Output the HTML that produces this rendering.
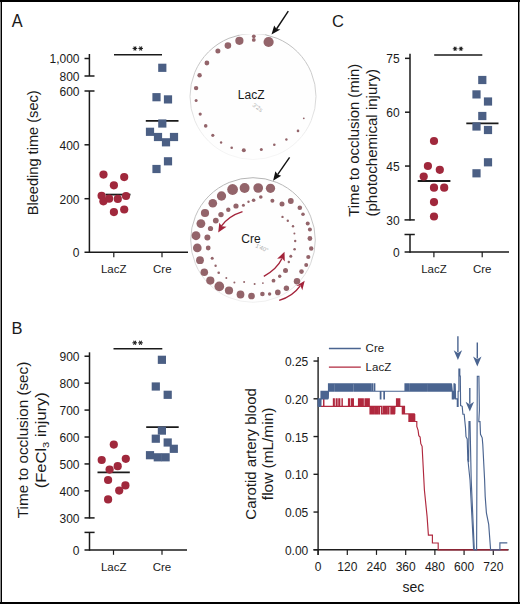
<!DOCTYPE html>
<html><head><meta charset="utf-8"><style>
html,body{margin:0;padding:0;background:#fff;}
svg{display:block;}
text{font-family:"Liberation Sans", sans-serif;}
</style></head><body>
<svg width="520" height="604" viewBox="0 0 520 604">
<rect x="0" y="0" width="520" height="604" fill="#ffffff"/>
<defs><linearGradient id="gL" x1="0" y1="0" x2="0" y2="1"><stop offset="0" stop-color="#bababa"/><stop offset="0.45" stop-color="#d2d2d2"/><stop offset="0.8" stop-color="#eeeeee"/><stop offset="1" stop-color="#f6f6f6"/></linearGradient><linearGradient id="gC" x1="0" y1="0" x2="0" y2="1"><stop offset="0" stop-color="#b5b5b5"/><stop offset="0.55" stop-color="#cdcdcd"/><stop offset="0.85" stop-color="#e6e6e6"/><stop offset="1" stop-color="#f0f0f0"/></linearGradient></defs>
<circle cx="253" cy="96.5" r="63" fill="#fefefe" stroke="url(#gL)" stroke-width="1"/>
<rect x="239" y="28" width="26" height="6.6" fill="#ffffff"/>
<circle cx="268.6" cy="42.0" r="5.1" fill="#93646a"/>
<circle cx="253.8" cy="36.3" r="1.9" fill="#93646a"/>
<circle cx="253.8" cy="39.9" r="1.9" fill="#93646a"/>
<circle cx="239.4" cy="40.8" r="4.1" fill="#93646a"/>
<circle cx="227.9" cy="45.6" r="3.3" fill="#93646a"/>
<circle cx="217.9" cy="51.0" r="2.5" fill="#93646a"/>
<circle cx="206.9" cy="63.0" r="2.4" fill="#93646a"/>
<circle cx="199.6" cy="75.2" r="2.2" fill="#93646a"/>
<circle cx="196.1" cy="88.1" r="2.2" fill="#93646a"/>
<circle cx="196.1" cy="100.6" r="1.5" fill="#93646a"/>
<circle cx="200.2" cy="114.1" r="1.6" fill="#93646a"/>
<circle cx="205.7" cy="125.9" r="1.8" fill="#93646a"/>
<circle cx="212.8" cy="135.3" r="1.6" fill="#93646a"/>
<circle cx="221.1" cy="142.5" r="1.2" fill="#93646a"/>
<circle cx="231.7" cy="147.7" r="1.3" fill="#93646a"/>
<circle cx="243.8" cy="150.2" r="2.0" fill="#93646a"/>
<circle cx="261.3" cy="149.4" r="1.5" fill="#93646a"/>
<circle cx="274.3" cy="144.8" r="1.3" fill="#93646a"/>
<circle cx="286.4" cy="139.5" r="1.2" fill="#93646a"/>
<circle cx="298.0" cy="130.9" r="1.3" fill="#93646a"/>
<circle cx="303.8" cy="118.3" r="0.9" fill="#93646a"/>
<text x="251.2" y="98.6" font-size="12" text-anchor="middle" fill="#1a1a1a" >LacZ</text>
<text x="0" y="0" font-size="6" fill="#b0b0b0" transform="translate(252,106) rotate(35)">3'2s</text>
<line x1="288.3" y1="11.2" x2="276.5" y2="29.0" stroke="#111" stroke-width="1.4"/>
<path d="M271.5,34.6 L274.2,25.4 L276.5,29.0 L280.4,29.6 Z" fill="#111"/>
<circle cx="253" cy="240" r="62.3" fill="#fefefe" stroke="url(#gC)" stroke-width="1"/>
<circle cx="270.5" cy="188.3" r="4.64" fill="#93646a"/>
<circle cx="258.2" cy="188.0" r="4.86" fill="#93646a"/>
<circle cx="244.6" cy="188.0" r="4.97" fill="#93646a"/>
<circle cx="232.6" cy="189.5" r="5.4" fill="#93646a"/>
<circle cx="221.5" cy="196.0" r="4.64" fill="#93646a"/>
<circle cx="212.8" cy="203.2" r="4.32" fill="#93646a"/>
<circle cx="205.0" cy="213.0" r="4.1" fill="#93646a"/>
<circle cx="200.9" cy="223.6" r="4.43" fill="#93646a"/>
<circle cx="196.0" cy="235.7" r="4.43" fill="#93646a"/>
<circle cx="197.3" cy="247.9" r="4.32" fill="#93646a"/>
<circle cx="200.0" cy="260.2" r="3.89" fill="#93646a"/>
<circle cx="204.3" cy="272.2" r="3.78" fill="#93646a"/>
<circle cx="210.3" cy="280.6" r="4.1" fill="#93646a"/>
<circle cx="219.3" cy="286.4" r="4.86" fill="#93646a"/>
<circle cx="229.0" cy="290.5" r="4.1" fill="#93646a"/>
<circle cx="240.5" cy="294.5" r="3.89" fill="#93646a"/>
<circle cx="251.5" cy="296.0" r="3.35" fill="#93646a"/>
<circle cx="262.4" cy="294.0" r="2.3" fill="#93646a"/>
<circle cx="269.6" cy="294.0" r="1.7" fill="#93646a"/>
<circle cx="277.8" cy="292.4" r="2.8" fill="#93646a"/>
<circle cx="286.4" cy="288.2" r="2.7" fill="#93646a"/>
<circle cx="297.0" cy="281.2" r="3.24" fill="#93646a"/>
<circle cx="301.5" cy="271.6" r="2.3" fill="#93646a"/>
<circle cx="306.2" cy="265.1" r="2.0" fill="#93646a"/>
<circle cx="308.3" cy="257.0" r="2.1" fill="#93646a"/>
<circle cx="311.2" cy="248.5" r="2.2" fill="#93646a"/>
<circle cx="309.9" cy="238.5" r="2.4" fill="#93646a"/>
<circle cx="309.9" cy="229.6" r="2.0" fill="#93646a"/>
<circle cx="307.7" cy="223.4" r="2.0" fill="#93646a"/>
<circle cx="303.0" cy="214.3" r="1.8" fill="#93646a"/>
<circle cx="299.8" cy="207.8" r="2.3" fill="#93646a"/>
<circle cx="290.8" cy="201.0" r="2.9" fill="#93646a"/>
<circle cx="282.0" cy="203.9" r="2.5" fill="#93646a"/>
<circle cx="272.4" cy="200.7" r="2.0" fill="#93646a"/>
<circle cx="260.8" cy="197.0" r="1.8" fill="#93646a"/>
<circle cx="253.6" cy="200.3" r="1.8" fill="#93646a"/>
<circle cx="248.5" cy="201.7" r="1.2" fill="#93646a"/>
<circle cx="243.4" cy="205.3" r="1.5" fill="#93646a"/>
<circle cx="236.0" cy="206.0" r="2.6" fill="#93646a"/>
<circle cx="228.3" cy="209.8" r="2.2" fill="#93646a"/>
<circle cx="221.0" cy="214.6" r="2.7" fill="#93646a"/>
<circle cx="215.8" cy="220.6" r="2.9" fill="#93646a"/>
<circle cx="210.5" cy="228.5" r="2.6" fill="#93646a"/>
<circle cx="207.4" cy="237.5" r="3.0" fill="#93646a"/>
<circle cx="208.2" cy="248.0" r="2.4" fill="#93646a"/>
<circle cx="212.2" cy="258.2" r="1.5" fill="#93646a"/>
<circle cx="215.6" cy="265.8" r="1.2" fill="#93646a"/>
<circle cx="218.7" cy="272.7" r="1.3" fill="#93646a"/>
<circle cx="226.3" cy="278.1" r="1.0" fill="#93646a"/>
<circle cx="234.4" cy="282.4" r="1.0" fill="#93646a"/>
<circle cx="244.1" cy="282.1" r="1.0" fill="#93646a"/>
<circle cx="254.6" cy="284.1" r="1.0" fill="#93646a"/>
<circle cx="262.9" cy="283.1" r="0.9" fill="#93646a"/>
<circle cx="273.5" cy="280.7" r="1.9" fill="#93646a"/>
<circle cx="279.7" cy="276.2" r="1.7" fill="#93646a"/>
<circle cx="285.5" cy="270.6" r="2.5" fill="#93646a"/>
<circle cx="288.8" cy="262.0" r="1.2" fill="#93646a"/>
<circle cx="290.8" cy="256.2" r="1.5" fill="#93646a"/>
<circle cx="294.6" cy="249.2" r="1.3" fill="#93646a"/>
<circle cx="295.2" cy="241.0" r="1.2" fill="#93646a"/>
<circle cx="294.4" cy="233.5" r="1.0" fill="#93646a"/>
<circle cx="293.0" cy="226.3" r="1.2" fill="#93646a"/>
<circle cx="287.8" cy="220.8" r="1.2" fill="#93646a"/>
<circle cx="282.5" cy="216.9" r="1.2" fill="#93646a"/>
<text x="251.0" y="242.7" font-size="12" text-anchor="middle" fill="#1a1a1a" >Cre</text>
<text x="0" y="0" font-size="6" fill="#b0b0b0" transform="translate(255,247) rotate(25)">1'40"</text>
<line x1="289.6" y1="157.3" x2="277.6" y2="174.6" stroke="#111" stroke-width="1.4"/>
<path d="M273.1,180.8 L275.4,171.2 L277.6,174.6 L281.2,175.8 Z" fill="#111"/>
<path d="M242.5,211.6 Q228.5,216 221.3,226.2" fill="none" stroke="#a3233a" stroke-width="1.4"/>
<path d="M218.2,232.4 L219.3,222.7 L221.9,226.2 L226.5,226.8 Z" fill="#a3233a"/>
<path d="M263.8,276.4 Q277,269 282,258.5" fill="none" stroke="#a3233a" stroke-width="1.4"/>
<path d="M284.5,251.8 L277.1,258.8 L282.0,258.3 L284.8,261.5 Z" fill="#a3233a"/>
<path d="M279.2,300.4 Q293,296 300.2,285.8" fill="none" stroke="#a3233a" stroke-width="1.4"/>
<path d="M304.7,280.7 L296.1,286.0 L300.4,285.6 L302.3,290.3 Z" fill="#a3233a"/>
<text x="11.8" y="26.9" font-size="18" text-anchor="start" fill="#1a1a1a" textLength="10.9" lengthAdjust="spacingAndGlyphs">A</text>
<text x="332.0" y="27.0" font-size="16.5" text-anchor="start" fill="#1a1a1a" >C</text>
<text x="11.5" y="334.0" font-size="16.5" text-anchor="start" fill="#1a1a1a" >B</text>
<line x1="89.40" y1="54.00" x2="89.40" y2="76.00" stroke="#1a1a1a" stroke-width="1.5" />
<line x1="84.50" y1="58.50" x2="89.40" y2="58.50" stroke="#1a1a1a" stroke-width="1.5" />
<line x1="84.50" y1="76.00" x2="94.50" y2="76.00" stroke="#1a1a1a" stroke-width="1.5" />
<line x1="84.50" y1="91.00" x2="94.50" y2="91.00" stroke="#1a1a1a" stroke-width="1.5" />
<line x1="89.40" y1="91.00" x2="89.40" y2="252.90" stroke="#1a1a1a" stroke-width="1.5" />
<line x1="84.50" y1="144.80" x2="89.40" y2="144.80" stroke="#1a1a1a" stroke-width="1.5" />
<line x1="84.50" y1="198.70" x2="89.40" y2="198.70" stroke="#1a1a1a" stroke-width="1.5" />
<line x1="84.50" y1="252.20" x2="188.00" y2="252.20" stroke="#1a1a1a" stroke-width="1.5" />
<line x1="113.80" y1="252.20" x2="113.80" y2="257.30" stroke="#1a1a1a" stroke-width="1.2" />
<line x1="162.00" y1="252.20" x2="162.00" y2="257.30" stroke="#1a1a1a" stroke-width="1.2" />
<text x="79.5" y="63.3" font-size="12" text-anchor="end" fill="#1a1a1a" >1,000</text>
<text x="79.5" y="80.8" font-size="12" text-anchor="end" fill="#1a1a1a" >800</text>
<text x="79.5" y="95.8" font-size="12" text-anchor="end" fill="#1a1a1a" >600</text>
<text x="79.5" y="149.6" font-size="12" text-anchor="end" fill="#1a1a1a" >400</text>
<text x="79.5" y="203.5" font-size="12" text-anchor="end" fill="#1a1a1a" >200</text>
<text x="79.5" y="257.0" font-size="12" text-anchor="end" fill="#1a1a1a" >0</text>
<text x="113.7" y="273.0" font-size="11.5" text-anchor="middle" fill="#1a1a1a" >LacZ</text>
<text x="162.3" y="273.0" font-size="11.5" text-anchor="middle" fill="#1a1a1a" >Cre</text>
<text x="0" y="0" font-size="14" text-anchor="middle" fill="#1a1a1a" textLength="125" lengthAdjust="spacingAndGlyphs" transform="translate(37.6,152.8) rotate(-90)" >Bleeding time (sec)</text>
<line x1="114.00" y1="54.70" x2="162.00" y2="54.70" stroke="#1a1a1a" stroke-width="1.6" />
<line x1="132.60" y1="48.40" x2="137.20" y2="48.40" stroke="#1a1a1a" stroke-width="1.05" />
<line x1="133.75" y1="46.41" x2="136.05" y2="50.39" stroke="#1a1a1a" stroke-width="1.05" />
<line x1="136.05" y1="46.41" x2="133.75" y2="50.39" stroke="#1a1a1a" stroke-width="1.05" />
<line x1="138.40" y1="48.40" x2="143.00" y2="48.40" stroke="#1a1a1a" stroke-width="1.05" />
<line x1="139.55" y1="46.41" x2="141.85" y2="50.39" stroke="#1a1a1a" stroke-width="1.05" />
<line x1="141.85" y1="46.41" x2="139.55" y2="50.39" stroke="#1a1a1a" stroke-width="1.05" />
<line x1="105.50" y1="194.60" x2="130.50" y2="194.60" stroke="#1a1a1a" stroke-width="1.8" />
<circle cx="103.5" cy="174.6" r="4.10" fill="#a0283c"/>
<circle cx="124.2" cy="177.1" r="4.10" fill="#a0283c"/>
<circle cx="113.9" cy="185.3" r="4.10" fill="#a0283c"/>
<circle cx="101.6" cy="195.8" r="4.10" fill="#a0283c"/>
<circle cx="103.4" cy="201.3" r="4.10" fill="#a0283c"/>
<circle cx="109.1" cy="198.7" r="4.10" fill="#a0283c"/>
<circle cx="117.8" cy="198.9" r="4.10" fill="#a0283c"/>
<circle cx="126.0" cy="196.0" r="4.10" fill="#a0283c"/>
<circle cx="113.9" cy="212.1" r="4.10" fill="#a0283c"/>
<circle cx="124.2" cy="209.5" r="4.10" fill="#a0283c"/>
<line x1="145.80" y1="120.80" x2="178.50" y2="120.80" stroke="#1a1a1a" stroke-width="1.8" />
<rect x="158.2" y="63.7" width="8.2" height="8.2" fill="#4b5f84"/>
<rect x="152.4" y="93.1" width="8.2" height="8.2" fill="#4b5f84"/>
<rect x="163.9" y="95.3" width="8.2" height="8.2" fill="#4b5f84"/>
<rect x="158.2" y="119.4" width="8.2" height="8.2" fill="#4b5f84"/>
<rect x="145.9" y="127.7" width="8.2" height="8.2" fill="#4b5f84"/>
<rect x="153.9" y="132.9" width="8.2" height="8.2" fill="#4b5f84"/>
<rect x="169.9" y="132.9" width="8.2" height="8.2" fill="#4b5f84"/>
<rect x="161.9" y="138.2" width="8.2" height="8.2" fill="#4b5f84"/>
<rect x="163.9" y="157.2" width="8.2" height="8.2" fill="#4b5f84"/>
<rect x="152.4" y="164.9" width="8.2" height="8.2" fill="#4b5f84"/>
<line x1="410.00" y1="53.80" x2="410.00" y2="220.60" stroke="#1a1a1a" stroke-width="1.5" />
<line x1="405.00" y1="58.35" x2="410.00" y2="58.35" stroke="#1a1a1a" stroke-width="1.5" />
<line x1="405.00" y1="112.20" x2="410.00" y2="112.20" stroke="#1a1a1a" stroke-width="1.5" />
<line x1="405.00" y1="166.05" x2="410.00" y2="166.05" stroke="#1a1a1a" stroke-width="1.5" />
<line x1="404.50" y1="219.90" x2="414.80" y2="219.90" stroke="#1a1a1a" stroke-width="1.5" />
<line x1="404.50" y1="234.50" x2="414.80" y2="234.50" stroke="#1a1a1a" stroke-width="1.5" />
<line x1="410.00" y1="234.50" x2="410.00" y2="252.80" stroke="#1a1a1a" stroke-width="1.5" />
<line x1="404.60" y1="252.10" x2="509.00" y2="252.10" stroke="#1a1a1a" stroke-width="1.5" />
<line x1="433.90" y1="252.10" x2="433.90" y2="257.30" stroke="#1a1a1a" stroke-width="1.2" />
<line x1="482.20" y1="252.10" x2="482.20" y2="257.30" stroke="#1a1a1a" stroke-width="1.2" />
<text x="399.6" y="63.2" font-size="12" text-anchor="end" fill="#1a1a1a" >75</text>
<text x="399.6" y="117.0" font-size="12" text-anchor="end" fill="#1a1a1a" >60</text>
<text x="399.6" y="170.9" font-size="12" text-anchor="end" fill="#1a1a1a" >45</text>
<text x="399.6" y="224.7" font-size="12" text-anchor="end" fill="#1a1a1a" >30</text>
<text x="399.6" y="256.9" font-size="12" text-anchor="end" fill="#1a1a1a" >0</text>
<text x="434.0" y="273.1" font-size="11.5" text-anchor="middle" fill="#1a1a1a" >LacZ</text>
<text x="482.2" y="273.1" font-size="11.5" text-anchor="middle" fill="#1a1a1a" >Cre</text>
<text x="0" y="0" font-size="14" text-anchor="middle" fill="#1a1a1a" textLength="153" lengthAdjust="spacingAndGlyphs" transform="translate(358.8,140.3) rotate(-90)" >Time to occlusion (min)</text>
<text x="0" y="0" font-size="14" text-anchor="middle" fill="#1a1a1a" textLength="147.5" lengthAdjust="spacingAndGlyphs" transform="translate(376.6,142.8) rotate(-90)" >(photochemical injury)</text>
<line x1="434.20" y1="55.00" x2="482.30" y2="55.00" stroke="#1a1a1a" stroke-width="1.6" />
<line x1="452.80" y1="48.80" x2="457.40" y2="48.80" stroke="#1a1a1a" stroke-width="1.05" />
<line x1="453.95" y1="46.81" x2="456.25" y2="50.79" stroke="#1a1a1a" stroke-width="1.05" />
<line x1="456.25" y1="46.81" x2="453.95" y2="50.79" stroke="#1a1a1a" stroke-width="1.05" />
<line x1="458.60" y1="48.80" x2="463.20" y2="48.80" stroke="#1a1a1a" stroke-width="1.05" />
<line x1="459.75" y1="46.81" x2="462.05" y2="50.79" stroke="#1a1a1a" stroke-width="1.05" />
<line x1="462.05" y1="46.81" x2="459.75" y2="50.79" stroke="#1a1a1a" stroke-width="1.05" />
<line x1="417.70" y1="181.00" x2="450.40" y2="181.00" stroke="#1a1a1a" stroke-width="1.8" />
<circle cx="434.0" cy="141.0" r="4.10" fill="#a0283c"/>
<circle cx="427.9" cy="166.0" r="4.10" fill="#a0283c"/>
<circle cx="439.8" cy="169.8" r="4.10" fill="#a0283c"/>
<circle cx="423.7" cy="176.5" r="4.10" fill="#a0283c"/>
<circle cx="434.0" cy="187.7" r="4.10" fill="#a0283c"/>
<circle cx="444.2" cy="187.7" r="4.10" fill="#a0283c"/>
<circle cx="434.0" cy="202.1" r="4.10" fill="#a0283c"/>
<circle cx="434.0" cy="216.5" r="4.10" fill="#a0283c"/>
<line x1="466.30" y1="123.30" x2="498.50" y2="123.30" stroke="#1a1a1a" stroke-width="1.8" />
<rect x="478.2" y="75.9" width="8.2" height="8.2" fill="#4b5f84"/>
<rect x="472.4" y="90.3" width="8.2" height="8.2" fill="#4b5f84"/>
<rect x="483.9" y="97.4" width="8.2" height="8.2" fill="#4b5f84"/>
<rect x="478.2" y="111.9" width="8.2" height="8.2" fill="#4b5f84"/>
<rect x="472.4" y="122.4" width="8.2" height="8.2" fill="#4b5f84"/>
<rect x="483.9" y="125.9" width="8.2" height="8.2" fill="#4b5f84"/>
<rect x="483.9" y="158.2" width="8.2" height="8.2" fill="#4b5f84"/>
<rect x="472.4" y="169.2" width="8.2" height="8.2" fill="#4b5f84"/>
<line x1="89.50" y1="352.30" x2="89.50" y2="518.50" stroke="#1a1a1a" stroke-width="1.5" />
<line x1="84.50" y1="356.22" x2="89.50" y2="356.22" stroke="#1a1a1a" stroke-width="1.5" />
<line x1="84.50" y1="383.15" x2="89.50" y2="383.15" stroke="#1a1a1a" stroke-width="1.5" />
<line x1="84.50" y1="410.08" x2="89.50" y2="410.08" stroke="#1a1a1a" stroke-width="1.5" />
<line x1="84.50" y1="437.01" x2="89.50" y2="437.01" stroke="#1a1a1a" stroke-width="1.5" />
<line x1="84.50" y1="463.94" x2="89.50" y2="463.94" stroke="#1a1a1a" stroke-width="1.5" />
<line x1="84.50" y1="490.87" x2="89.50" y2="490.87" stroke="#1a1a1a" stroke-width="1.5" />
<line x1="84.50" y1="517.90" x2="94.60" y2="517.90" stroke="#1a1a1a" stroke-width="1.5" />
<line x1="84.50" y1="532.40" x2="94.60" y2="532.40" stroke="#1a1a1a" stroke-width="1.5" />
<line x1="89.50" y1="532.40" x2="89.50" y2="550.70" stroke="#1a1a1a" stroke-width="1.5" />
<line x1="84.50" y1="550.00" x2="187.00" y2="550.00" stroke="#1a1a1a" stroke-width="1.5" />
<line x1="113.50" y1="550.00" x2="113.50" y2="554.80" stroke="#1a1a1a" stroke-width="1.2" />
<line x1="162.00" y1="550.00" x2="162.00" y2="554.80" stroke="#1a1a1a" stroke-width="1.2" />
<text x="79.5" y="361.0" font-size="12" text-anchor="end" fill="#1a1a1a" >900</text>
<text x="79.5" y="387.9" font-size="12" text-anchor="end" fill="#1a1a1a" >800</text>
<text x="79.5" y="414.9" font-size="12" text-anchor="end" fill="#1a1a1a" >700</text>
<text x="79.5" y="441.8" font-size="12" text-anchor="end" fill="#1a1a1a" >600</text>
<text x="79.5" y="468.7" font-size="12" text-anchor="end" fill="#1a1a1a" >500</text>
<text x="79.5" y="495.7" font-size="12" text-anchor="end" fill="#1a1a1a" >400</text>
<text x="79.5" y="522.6" font-size="12" text-anchor="end" fill="#1a1a1a" >300</text>
<text x="79.5" y="554.8" font-size="12" text-anchor="end" fill="#1a1a1a" >0</text>
<text x="113.7" y="570.6" font-size="11.5" text-anchor="middle" fill="#1a1a1a" >LacZ</text>
<text x="162.0" y="570.6" font-size="11.5" text-anchor="middle" fill="#1a1a1a" >Cre</text>
<text x="0" y="0" font-size="14" text-anchor="middle" fill="#1a1a1a" textLength="156.5" lengthAdjust="spacingAndGlyphs" transform="translate(27.8,439.9) rotate(-90)" >Time to occlusion (sec)</text>
<text x="0" y="0" font-size="14" text-anchor="middle" fill="#1a1a1a" transform="translate(46.2,440.2) rotate(-90)" textLength="96" lengthAdjust="spacingAndGlyphs">(FeCl<tspan font-size="9.5" dy="3">3</tspan><tspan dy="-3"> injury)</tspan></text>
<line x1="113.50" y1="348.80" x2="162.30" y2="348.80" stroke="#1a1a1a" stroke-width="1.6" />
<line x1="132.40" y1="342.80" x2="137.00" y2="342.80" stroke="#1a1a1a" stroke-width="1.05" />
<line x1="133.55" y1="340.81" x2="135.85" y2="344.79" stroke="#1a1a1a" stroke-width="1.05" />
<line x1="135.85" y1="340.81" x2="133.55" y2="344.79" stroke="#1a1a1a" stroke-width="1.05" />
<line x1="138.20" y1="342.80" x2="142.80" y2="342.80" stroke="#1a1a1a" stroke-width="1.05" />
<line x1="139.35" y1="340.81" x2="141.65" y2="344.79" stroke="#1a1a1a" stroke-width="1.05" />
<line x1="141.65" y1="340.81" x2="139.35" y2="344.79" stroke="#1a1a1a" stroke-width="1.05" />
<line x1="97.50" y1="472.30" x2="129.80" y2="472.30" stroke="#1a1a1a" stroke-width="1.8" />
<circle cx="113.8" cy="444.6" r="4.10" fill="#a0283c"/>
<circle cx="101.7" cy="460.0" r="4.10" fill="#a0283c"/>
<circle cx="125.8" cy="458.8" r="4.10" fill="#a0283c"/>
<circle cx="117.7" cy="466.2" r="4.10" fill="#a0283c"/>
<circle cx="109.6" cy="469.6" r="4.10" fill="#a0283c"/>
<circle cx="108.1" cy="480.0" r="4.10" fill="#a0283c"/>
<circle cx="125.4" cy="485.4" r="4.10" fill="#a0283c"/>
<circle cx="119.2" cy="490.6" r="4.10" fill="#a0283c"/>
<circle cx="108.1" cy="499.4" r="4.10" fill="#a0283c"/>
<line x1="146.20" y1="427.10" x2="178.70" y2="427.10" stroke="#1a1a1a" stroke-width="1.8" />
<rect x="157.8" y="355.7" width="8.2" height="8.2" fill="#4b5f84"/>
<rect x="151.7" y="382.4" width="8.2" height="8.2" fill="#4b5f84"/>
<rect x="163.6" y="390.7" width="8.2" height="8.2" fill="#4b5f84"/>
<rect x="157.8" y="426.5" width="8.2" height="8.2" fill="#4b5f84"/>
<rect x="151.7" y="434.6" width="8.2" height="8.2" fill="#4b5f84"/>
<rect x="163.6" y="438.4" width="8.2" height="8.2" fill="#4b5f84"/>
<rect x="169.7" y="444.7" width="8.2" height="8.2" fill="#4b5f84"/>
<rect x="145.9" y="451.1" width="8.2" height="8.2" fill="#4b5f84"/>
<rect x="153.7" y="453.2" width="8.2" height="8.2" fill="#4b5f84"/>
<rect x="161.5" y="453.2" width="8.2" height="8.2" fill="#4b5f84"/>
<line x1="318.10" y1="357.00" x2="318.10" y2="554.90" stroke="#1e1e1e" stroke-width="1.4" />
<line x1="313.50" y1="549.80" x2="318.10" y2="549.80" stroke="#1e1e1e" stroke-width="1.4" />
<text x="308.3" y="554.8" font-size="12" text-anchor="end" fill="#1a1a1a" >0.00</text>
<line x1="313.50" y1="512.05" x2="318.10" y2="512.05" stroke="#1e1e1e" stroke-width="1.4" />
<text x="308.3" y="517.0" font-size="12" text-anchor="end" fill="#1a1a1a" >0.05</text>
<line x1="313.50" y1="474.30" x2="318.10" y2="474.30" stroke="#1e1e1e" stroke-width="1.4" />
<text x="308.3" y="479.3" font-size="12" text-anchor="end" fill="#1a1a1a" >0.10</text>
<line x1="313.50" y1="436.55" x2="318.10" y2="436.55" stroke="#1e1e1e" stroke-width="1.4" />
<text x="308.3" y="441.5" font-size="12" text-anchor="end" fill="#1a1a1a" >0.15</text>
<line x1="313.50" y1="398.80" x2="318.10" y2="398.80" stroke="#1e1e1e" stroke-width="1.4" />
<text x="308.3" y="403.8" font-size="12" text-anchor="end" fill="#1a1a1a" >0.20</text>
<line x1="313.50" y1="361.05" x2="318.10" y2="361.05" stroke="#1e1e1e" stroke-width="1.4" />
<text x="308.3" y="366.0" font-size="12" text-anchor="end" fill="#1a1a1a" >0.25</text>
<line x1="313.50" y1="549.80" x2="508.60" y2="549.80" stroke="#1e1e1e" stroke-width="1.4" />
<line x1="318.10" y1="549.80" x2="318.10" y2="554.90" stroke="#1e1e1e" stroke-width="1.2" />
<text x="318.1" y="571.1" font-size="12" text-anchor="middle" fill="#1a1a1a" >0</text>
<line x1="347.30" y1="549.80" x2="347.30" y2="554.90" stroke="#1e1e1e" stroke-width="1.2" />
<text x="347.3" y="571.1" font-size="12" text-anchor="middle" fill="#1a1a1a" >120</text>
<line x1="376.49" y1="549.80" x2="376.49" y2="554.90" stroke="#1e1e1e" stroke-width="1.2" />
<text x="376.5" y="571.1" font-size="12" text-anchor="middle" fill="#1a1a1a" >240</text>
<line x1="405.69" y1="549.80" x2="405.69" y2="554.90" stroke="#1e1e1e" stroke-width="1.2" />
<text x="405.7" y="571.1" font-size="12" text-anchor="middle" fill="#1a1a1a" >360</text>
<line x1="434.88" y1="549.80" x2="434.88" y2="554.90" stroke="#1e1e1e" stroke-width="1.2" />
<text x="434.9" y="571.1" font-size="12" text-anchor="middle" fill="#1a1a1a" >480</text>
<line x1="464.08" y1="549.80" x2="464.08" y2="554.90" stroke="#1e1e1e" stroke-width="1.2" />
<text x="464.1" y="571.1" font-size="12" text-anchor="middle" fill="#1a1a1a" >600</text>
<line x1="493.28" y1="549.80" x2="493.28" y2="554.90" stroke="#1e1e1e" stroke-width="1.2" />
<text x="493.3" y="571.1" font-size="12" text-anchor="middle" fill="#1a1a1a" >720</text>
<text x="413.4" y="592.2" font-size="14" text-anchor="middle" fill="#1a1a1a" >sec</text>
<text x="0" y="0" font-size="14" text-anchor="middle" fill="#1a1a1a" textLength="131.5" lengthAdjust="spacingAndGlyphs" transform="translate(256.2,453.9) rotate(-90)">Carotid artery blood</text>
<text x="0" y="0" font-size="14" text-anchor="middle" fill="#1a1a1a" textLength="92.5" lengthAdjust="spacingAndGlyphs" transform="translate(273.4,453.9) rotate(-90)">flow (mL/min)</text>
<line x1="328.90" y1="348.50" x2="360.80" y2="348.50" stroke="#4a6490" stroke-width="1.3" />
<text x="365.6" y="352.3" font-size="11.5" text-anchor="start" fill="#1a1a1a" >Cre</text>
<line x1="328.90" y1="367.20" x2="360.80" y2="367.20" stroke="#b0283e" stroke-width="1.3" />
<text x="365.6" y="371.2" font-size="11.5" text-anchor="start" fill="#1a1a1a" >LacZ</text>
<polyline fill="none" stroke="#b0283e" stroke-width="1.15" stroke-linejoin="miter" points="318.10,406.35 323.60,406.35 323.60,398.80 323.90,398.80 323.90,406.35 333.40,406.35 333.40,398.80 333.70,398.80 333.70,406.35 334.00,406.35 334.00,398.80 334.30,398.80 334.30,406.35 336.20,406.35 336.20,398.80 336.50,398.80 336.50,406.35 336.80,406.35 336.80,398.80 337.10,398.80 337.10,406.35 338.80,406.35 338.80,398.80 339.10,398.80 339.10,406.35 339.50,406.35 339.50,398.80 339.80,398.80 339.80,406.35 342.00,406.35 342.00,398.80 342.30,398.80 342.30,406.35 348.50,406.35 348.50,398.80 348.80,398.80 348.80,406.35 349.10,406.35 349.10,398.80 349.40,398.80 349.40,406.35 351.20,406.35 351.20,398.80 351.50,398.80 351.50,406.35 351.80,406.35 351.80,398.80 352.10,398.80 352.10,406.35 353.10,406.35 353.10,398.80 353.40,398.80 353.40,406.35 358.50,406.35 358.50,398.80 358.80,398.80 358.80,406.35 359.10,406.35 359.10,398.80 359.40,398.80 359.40,406.35 359.70,406.35 359.70,398.80 360.00,398.80 360.00,406.35 360.40,406.35 360.40,398.80 360.70,398.80 360.70,406.35 361.00,406.35 361.00,398.80 361.30,398.80 361.30,406.35 361.70,406.35 361.70,398.80 362.00,398.80 362.00,406.35 362.40,406.35 362.40,398.80 362.70,398.80 362.70,406.35 363.00,406.35 363.00,398.80 363.30,398.80 363.30,406.35 365.00,406.35 365.00,398.80 365.30,398.80 365.30,406.35 365.70,406.35 365.70,398.80 366.00,398.80 366.00,406.35 366.40,406.35 366.40,398.80 366.70,398.80 366.70,406.35 367.00,406.35 367.00,398.80 367.30,398.80 367.30,406.35 367.70,406.35 367.70,398.80 368.00,398.80 368.00,406.35 368.40,406.35 368.40,398.80 368.70,398.80 368.70,406.35 369.00,406.35 369.00,398.80 369.30,398.80 369.30,406.35 370.00,406.35 370.00,406.35 370.00,413.90 370.54,413.90 370.54,406.35 371.07,406.35 371.07,406.35 371.51,406.35 371.51,413.90 372.11,413.90 372.11,406.35 372.46,406.35 372.46,413.90 372.74,413.90 372.74,406.35 373.34,406.35 373.34,413.90 373.90,413.90 373.90,406.35 375.11,406.35 375.11,413.90 375.46,413.90 375.46,406.35 376.04,406.35 376.04,413.90 376.50,413.90 376.50,406.35 377.11,406.35 377.11,413.90 377.71,413.90 377.71,406.35 378.04,406.35 378.04,406.35 378.41,406.35 378.41,406.35 378.93,406.35 378.93,413.90 379.49,413.90 379.49,406.35 379.94,406.35 379.94,406.35 381.46,406.35 381.46,413.90 382.93,413.90 382.93,406.35 383.33,406.35 383.33,406.35 383.62,406.35 383.62,413.90 383.96,413.90 383.96,406.35 384.57,406.35 384.57,413.90 385.03,413.90 385.03,406.35 385.57,406.35 385.57,413.90 385.85,413.90 385.85,406.35 386.24,406.35 386.24,413.90 386.64,413.90 386.64,406.35 387.02,406.35 387.02,413.90 387.32,413.90 387.32,406.35 387.95,406.35 387.95,406.35 388.57,406.35 388.57,413.90 388.93,413.90 388.93,406.35 389.36,406.35 389.36,406.35 390.86,406.35 390.86,413.90 391.43,413.90 391.43,406.35 392.04,406.35 392.04,413.90 392.35,413.90 392.35,406.35 392.93,406.35 392.93,413.90 393.56,413.90 393.56,406.35 393.99,406.35 393.99,413.90 394.43,413.90 394.43,406.35 394.75,406.35 394.75,413.90 395.00,406.35 396.50,406.35 396.50,398.80 397.00,398.80 397.00,406.35 397.80,406.35 397.80,398.80 398.30,398.80 398.30,406.35 399.30,406.35 399.30,398.80 399.80,398.80 399.80,406.35 402.30,406.35 402.30,406.35 402.30,413.90 402.74,413.90 402.74,406.35 403.35,406.35 403.35,413.90 403.96,413.90 403.96,406.35 404.53,406.35 404.53,413.90 405.60,413.90 408.90,413.90 408.90,413.90 408.90,421.45 409.41,421.45 409.41,413.90 409.98,413.90 409.98,421.45 410.24,421.45 410.24,413.90 410.71,413.90 410.71,421.45 411.18,421.45 411.18,413.90 411.65,413.90 411.65,421.45 412.02,421.45 412.02,413.90 412.50,413.90 412.50,421.45 412.93,421.45 412.93,413.90 413.46,413.90 413.46,421.45 413.95,421.45 413.95,413.90 414.26,413.90 414.26,421.45 414.73,421.45 414.73,413.90 414.80,421.45 416.80,421.45 416.80,426.50 418.10,430.40 418.80,435.70 420.10,437.00 420.80,443.70 422.10,446.30 422.80,459.50 424.40,490.00 427.10,516.60 428.40,535.10 432.40,535.10 432.40,543.00 438.20,543.00 438.20,549.80 508.00,549.80"/>
<polyline fill="none" stroke="#4a6490" stroke-width="1.15" stroke-linejoin="miter" points="318.10,406.35 318.10,406.35 318.10,398.80 318.38,398.80 318.38,406.35 318.88,406.35 318.88,398.80 319.38,398.80 319.38,406.35 319.73,406.35 319.73,398.80 320.12,398.80 320.12,406.35 320.40,406.35 320.40,398.80 320.89,398.80 320.89,406.35 321.00,398.80 321.00,391.25 321.35,391.25 321.35,398.80 321.88,398.80 321.88,391.25 322.34,391.25 322.34,398.80 322.70,398.80 322.70,391.25 323.23,391.25 323.23,398.80 323.70,398.80 323.70,391.25 324.15,391.25 324.15,398.80 324.73,398.80 324.73,391.25 325.28,391.25 325.28,398.80 325.72,398.80 325.72,391.25 326.18,391.25 326.18,398.80 326.58,398.80 326.58,391.25 327.16,391.25 327.16,398.80 327.72,398.80 327.72,391.25 328.30,391.25 328.30,398.80 328.50,391.25 328.50,383.70 328.85,383.70 328.85,391.25 329.31,391.25 329.31,383.70 329.82,383.70 329.82,383.70 330.25,383.70 330.25,391.25 330.77,391.25 330.77,383.70 331.07,383.70 331.07,391.25 331.53,391.25 331.53,383.70 331.98,383.70 331.98,391.25 332.49,391.25 332.49,383.70 332.86,383.70 332.86,391.25 333.27,391.25 333.27,383.70 333.72,383.70 333.72,391.25 334.12,391.25 334.12,383.70 335.40,383.70 335.40,391.25 335.79,391.25 335.79,383.70 336.26,383.70 336.26,391.25 336.64,391.25 336.64,383.70 336.96,383.70 336.96,391.25 337.23,391.25 337.23,383.70 337.63,383.70 337.63,391.25 338.19,391.25 338.19,383.70 338.62,383.70 338.62,391.25 338.93,391.25 338.93,383.70 339.20,383.70 339.20,391.25 339.72,391.25 339.72,391.25 340.21,391.25 340.21,383.70 340.70,383.70 340.70,391.25 341.03,391.25 341.03,383.70 341.52,383.70 341.52,391.25 342.08,391.25 342.08,383.70 342.47,383.70 342.47,391.25 342.74,391.25 342.74,383.70 343.01,383.70 343.01,391.25 343.51,391.25 343.51,383.70 343.91,383.70 343.91,391.25 344.33,391.25 344.33,383.70 344.60,383.70 344.60,391.25 345.06,391.25 345.06,383.70 345.50,383.70 345.50,391.25 345.94,391.25 345.94,383.70 346.36,383.70 346.36,391.25 346.74,391.25 346.74,383.70 347.23,383.70 347.23,391.25 347.71,391.25 347.71,383.70 348.16,383.70 348.16,391.25 348.57,391.25 348.57,383.70 348.84,383.70 348.84,391.25 349.14,391.25 349.14,383.70 349.46,383.70 349.46,391.25 349.94,391.25 349.94,383.70 350.40,383.70 350.40,391.25 350.77,391.25 350.77,383.70 351.15,383.70 351.15,391.25 351.62,391.25 351.62,383.70 352.16,383.70 352.16,391.25 352.60,391.25 352.60,383.70 352.88,383.70 352.88,391.25 353.15,391.25 353.15,383.70 354.50,383.70 354.50,391.25 355.05,391.25 355.05,383.70 355.46,383.70 355.46,391.25 355.76,391.25 355.76,383.70 356.31,383.70 356.31,391.25 356.66,391.25 356.66,383.70 356.99,383.70 356.99,391.25 357.55,391.25 357.55,383.70 358.03,383.70 358.03,391.25 358.60,391.25 358.60,383.70 358.95,383.70 358.95,391.25 359.26,391.25 359.26,391.25 359.59,391.25 359.59,383.70 360.17,383.70 360.17,391.25 360.58,391.25 360.58,383.70 361.07,383.70 361.07,391.25 361.55,391.25 361.55,383.70 361.94,383.70 361.94,383.70 362.22,383.70 362.22,391.25 362.48,391.25 362.48,383.70 362.91,383.70 362.91,391.25 363.19,391.25 363.19,383.70 363.75,383.70 363.75,391.25 364.02,391.25 364.02,383.70 364.36,383.70 364.36,391.25 364.63,391.25 364.63,383.70 364.94,383.70 364.94,391.25 365.37,391.25 365.37,383.70 365.66,383.70 365.66,391.25 366.11,391.25 366.11,383.70 366.37,383.70 366.37,391.25 366.81,391.25 366.81,383.70 367.31,383.70 367.31,391.25 367.71,391.25 367.71,383.70 368.00,383.70 368.00,391.25 368.52,391.25 368.52,383.70 368.81,383.70 368.81,391.25 369.09,391.25 369.09,383.70 369.43,383.70 369.43,391.25 369.60,391.25 370.40,391.25 370.40,383.70 370.90,383.70 370.90,391.25 372.20,391.25 372.20,383.70 372.70,383.70 372.70,391.25 374.30,391.25 374.30,383.70 374.80,383.70 374.80,391.25 380.30,391.25 380.30,398.80 380.90,398.80 380.90,391.25 383.90,391.25 383.90,398.80 384.40,398.80 384.40,391.25 405.00,391.25 405.00,391.25 405.00,383.70 405.38,383.70 405.38,391.25 405.74,391.25 405.74,383.70 406.29,383.70 406.29,391.25 406.73,391.25 406.73,383.70 407.21,383.70 407.21,391.25 407.69,391.25 407.69,383.70 408.07,383.70 408.07,391.25 408.38,391.25 408.38,383.70 408.73,383.70 408.73,391.25 410.01,391.25 410.01,383.70 410.31,383.70 410.31,391.25 410.88,391.25 410.88,383.70 411.27,383.70 411.27,391.25 411.53,391.25 411.53,383.70 412.02,383.70 412.02,391.25 412.33,391.25 412.33,383.70 412.90,383.70 412.90,391.25 413.26,391.25 413.26,383.70 413.66,383.70 413.66,391.25 414.22,391.25 414.22,383.70 414.68,383.70 414.68,391.25 415.07,391.25 415.07,383.70 415.33,383.70 415.33,391.25 415.88,391.25 415.88,383.70 416.23,383.70 416.23,391.25 416.60,391.25 416.60,383.70 416.97,383.70 416.97,391.25 417.50,391.25 417.50,383.70 417.89,383.70 417.89,391.25 418.31,391.25 418.31,383.70 418.59,383.70 418.59,391.25 418.91,391.25 418.91,383.70 419.39,383.70 419.39,391.25 419.91,391.25 419.91,391.25 420.34,391.25 420.34,383.70 420.72,383.70 420.72,383.70 421.08,383.70 421.08,391.25 421.56,391.25 421.56,383.70 422.09,383.70 422.09,391.25 422.57,391.25 422.57,383.70 422.94,383.70 422.94,391.25 423.37,391.25 423.37,383.70 423.65,383.70 423.65,391.25 424.16,391.25 424.16,383.70 424.72,383.70 424.72,391.25 425.00,391.25 425.00,383.70 425.57,383.70 425.57,391.25 426.11,391.25 426.11,383.70 426.43,383.70 426.43,391.25 426.76,391.25 426.76,383.70 427.98,383.70 427.98,391.25 428.30,391.25 428.30,383.70 428.85,383.70 428.85,391.25 429.14,391.25 429.14,383.70 429.63,383.70 429.63,391.25 429.96,391.25 429.96,383.70 430.42,383.70 430.42,391.25 430.88,391.25 430.88,383.70 431.16,383.70 431.16,391.25 431.70,391.25 431.70,383.70 432.10,383.70 432.10,391.25 432.45,391.25 432.45,383.70 433.03,383.70 433.03,391.25 433.32,391.25 433.32,383.70 433.63,383.70 433.63,391.25 434.10,391.25 434.10,383.70 434.38,383.70 434.38,391.25 434.95,391.25 434.95,383.70 435.42,383.70 435.42,391.25 435.90,391.25 435.90,383.70 436.19,383.70 436.19,391.25 436.47,391.25 436.47,383.70 436.76,383.70 436.76,391.25 437.29,391.25 437.29,383.70 437.85,383.70 437.85,391.25 438.43,391.25 438.43,383.70 438.70,383.70 438.70,391.25 439.11,391.25 439.11,383.70 439.39,383.70 439.39,391.25 439.76,391.25 439.76,383.70 440.14,383.70 440.14,391.25 440.72,391.25 440.72,383.70 441.22,383.70 441.22,391.25 441.52,391.25 441.52,383.70 442.02,383.70 442.02,391.25 442.36,391.25 442.36,383.70 442.88,383.70 442.88,391.25 443.25,391.25 443.25,383.70 443.52,383.70 443.52,391.25 443.99,391.25 443.99,383.70 444.28,383.70 444.28,391.25 444.71,391.25 444.71,383.70 444.99,383.70 444.99,391.25 445.25,391.25 445.25,383.70 445.50,383.70 445.50,391.25 445.88,391.25 445.88,383.70 446.21,383.70 446.21,391.25 446.62,391.25 446.62,383.70 447.19,383.70 447.19,391.25 447.46,391.25 447.46,383.70 447.86,383.70 447.86,391.25 448.33,391.25 448.33,383.70 448.59,383.70 448.59,391.25 449.14,391.25 449.14,383.70 449.51,383.70 449.51,391.25 450.07,391.25 450.07,383.70 450.46,383.70 450.46,391.25 450.79,391.25 450.79,383.70 451.20,383.70 451.20,391.25 451.49,391.25 451.49,383.70 452.30,391.25 452.30,398.80 452.90,398.80 452.90,391.25 453.60,391.25 453.60,398.80 454.00,398.80 454.00,383.70 454.50,383.70 454.50,398.80 455.20,383.70 455.60,398.80 457.30,398.80 457.30,406.35 458.10,406.35 458.10,391.25 458.90,391.25 458.90,369.00 459.80,369.00 459.80,376.00 460.30,376.00 460.60,405.60 462.20,406.30 462.90,414.20 464.20,414.20 464.80,420.80 465.50,427.50 466.00,436.70 467.20,439.00 467.80,458.70 468.60,462.00 469.00,421.60 470.00,421.60 471.20,480.00 474.30,549.80 476.60,549.80 477.30,376.20 478.90,376.20 479.40,410.00 478.80,421.60 480.00,421.60 480.50,434.30 482.20,437.80 482.80,444.80 484.60,480.00 485.20,496.60 486.40,512.80 488.70,524.40 490.60,549.80 499.90,549.80 499.90,542.80 507.30,542.80"/>
<polyline fill="none" stroke="#4a6490" stroke-width="1.1" points="467.8,458.7 470.0,480 473.6,549.8"/>
<line x1="457.9" y1="336.3" x2="457.9" y2="352.3" stroke="#4a6490" stroke-width="1.4"/>
<path d="M457.9,360.1 L453.7,350.3 L457.9,352.90000000000003 L462.09999999999997,350.3 Z" fill="#4a6490"/>
<line x1="477.3" y1="342.4" x2="477.3" y2="358.59999999999997" stroke="#4a6490" stroke-width="1.4"/>
<path d="M477.3,366.4 L473.1,356.59999999999997 L477.3,359.2 L481.5,356.59999999999997 Z" fill="#4a6490"/>
<line x1="469.8" y1="388.0" x2="469.8" y2="403.8" stroke="#4a6490" stroke-width="1.4"/>
<path d="M469.8,411.6 L465.6,401.8 L469.8,404.40000000000003 L474.0,401.8 Z" fill="#4a6490"/>
<rect x="0" y="0" width="1" height="604" fill="#8c8c8c"/>
<rect x="519" y="0" width="1" height="604" fill="#8c8c8c"/>
<rect x="1" y="0" width="1" height="604" fill="#000"/>
<rect x="518" y="0" width="1" height="604" fill="#000"/>
<rect x="0" y="0" width="520" height="2" fill="#000"/>
<rect x="0" y="602" width="520" height="2" fill="#000"/>
</svg>
</body></html>
